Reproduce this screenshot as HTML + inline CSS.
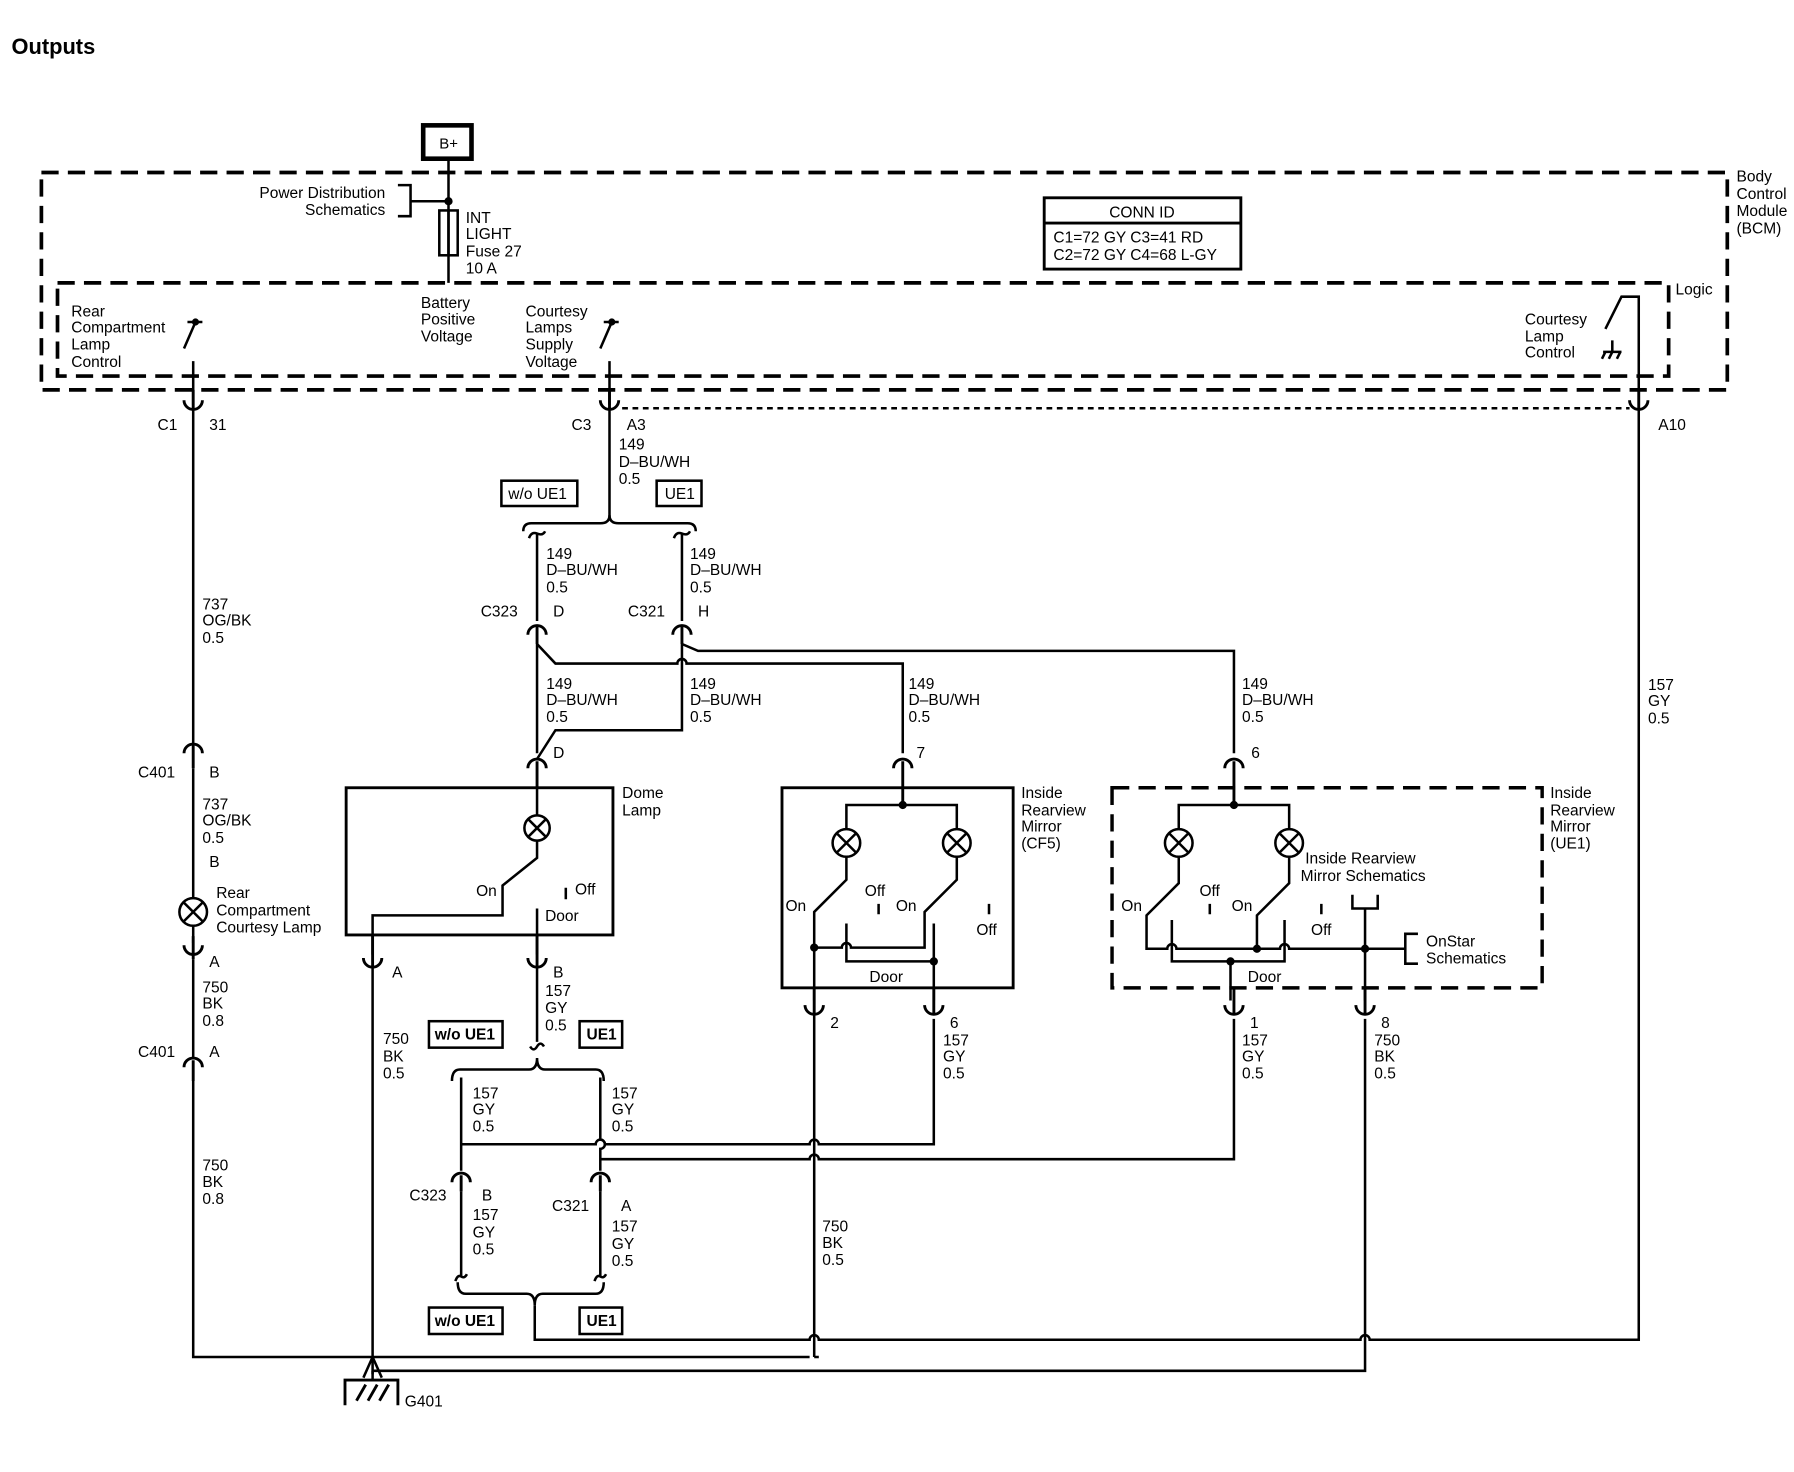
<!DOCTYPE html>
<html><head><meta charset="utf-8"><style>
html,body{margin:0;padding:0;background:#fff}
svg{display:block}
text{font-family:"Liberation Sans",sans-serif;font-size:13.5px;fill:#000}
</style></head><body>
<svg width="1794" height="1472" viewBox="0 0 1560 1280" xmlns="http://www.w3.org/2000/svg">
<g fill="none" stroke="#000" stroke-width="2.2">
<!-- BCM boxes -->
<rect x="36" y="150" width="1466" height="189" stroke-width="3.2" stroke-dasharray="15 8"/>
<rect x="50" y="246" width="1401" height="81" stroke-width="3.2" stroke-dasharray="15 8"/>
<!-- B+ -->
<rect x="368" y="109" width="42" height="29" stroke-width="4"/>
<line x1="390" y1="140" x2="390" y2="246"/>
<path d="M390 175 H357 M346 161 H357 V188 H346"/>
<circle cx="390" cy="175" r="2.5" fill="#000"/>
<rect x="382" y="183" width="16" height="39"/>
<line x1="390" y1="183" x2="390" y2="222"/>
<!-- CONN ID -->
<rect x="908" y="172" width="171" height="62" stroke-width="2.5"/>
<line x1="908" y1="194" x2="1079" y2="194" stroke-width="2.5"/>
<!-- BCM switches -->
<path d="M163 280 H176 M170 280 L160 303 M168 314 V352"/>
<circle cx="170" cy="280" r="2" fill="#000"/>
<path d="M525 280 H538 M532 280 L522 303 M530 314 V352"/>
<circle cx="532" cy="280" r="2" fill="#000"/>
<path d="M1425 352 V258 H1410 L1396 286 M1402 296 V306 M1394 306 H1410 M1396 306 L1393 312 M1402 306 L1399 312 M1409 306 L1406 312"/>
<!-- C1, C3, A10 connectors (U) -->
<path d="M160 348 A8 8 0 0 0 176 348 M168 339 V356" stroke-width="2.5"/>
<path d="M168 356 V648"/>
<path d="M522 348 A8 8 0 0 0 538 348 M530 339 V356" stroke-width="2.5"/>
<path d="M1417 348 A8 8 0 0 0 1433 348 M1425 339 V356" stroke-width="2.5"/>
<line x1="541" y1="355" x2="1417" y2="355" stroke-dasharray="5 4"/>
<!-- brace top -->
<path d="M530 356 V452"/>
<rect x="436" y="418" width="66" height="22"/>
<rect x="571" y="418" width="39" height="22"/>
<path d="M455 462 Q455 455 462 455 H522 Q530 455 530 448 Q530 455 538 455 H598 Q605 455 605 462"/>
<path d="M460 468 Q462 462 467 464 Q472 466 474 462 M586 468 Q588 462 593 464 Q598 466 600 462"/>
<path d="M467 464 V540 M593 464 V540"/>
<!-- C323 D / C321 H -->
<path d="M459 552 A8 8 0 0 1 475 552 M467 545 V560" stroke-width="2.5"/>
<path d="M585 552 A8 8 0 0 1 601 552 M593 545 V560" stroke-width="2.5"/>
<path d="M467 560 V655"/>
<path d="M467 560 L483 577 H589 a4 4 0 0 1 8 0 H785 V655"/>
<path d="M593 560 L607 566 H1073 V655"/>
<path d="M593 560 V635 H483 L467 660"/>
<!-- connectors D,7,6 (∩) -->
<path d="M459 668 A8 8 0 0 1 475 668 M467 662 V685" stroke-width="2.5"/>
<path d="M777 668 A8 8 0 0 1 793 668 M785 662 V700" stroke-width="2.5"/>
<path d="M1065 668 A8 8 0 0 1 1081 668 M1073 662 V700" stroke-width="2.5"/>
<!-- Dome lamp -->
<rect x="301" y="685" width="232" height="128" stroke-width="2.5"/>
<circle cx="467" cy="720" r="11"/>
<path d="M459 712 L475 728 M475 712 L459 728"/>
<path d="M467 685 V709 M467 731 V746 L437 770 V796 H324 V830"/>
<path d="M492 772 V782 M467 790 V830"/>
<path d="M316 833 A8 8 0 0 0 332 833 M324 813 V841" stroke-width="2.5"/>
<path d="M459 833 A8 8 0 0 0 475 833 M467 813 V841" stroke-width="2.5"/>
<path d="M324 841 V1195"/>
<path d="M467 841 V906"/>
<!-- middle brace group -->
<rect x="373" y="888" width="64" height="23"/>
<rect x="504" y="888" width="37" height="23"/>
<path d="M461 910 Q464 915 467 910 Q470 905 473 910"/>
<path d="M393 940 Q393 930 400 930 H460 Q467 930 467 920 Q467 930 474 930 H518 Q525 930 525 940"/>
<path d="M401 937 V1018 M522 937 V991 a4 4 0 0 1 0 8 V1018"/>
<path d="M401 995 H518 a4 4 0 0 1 8 0 H704 a4 4 0 0 1 8 0 H812 V886"/>
<path d="M522 1008 H704 a4 4 0 0 1 8 0 H1073 V886"/>
<path d="M393 1028 A8 8 0 0 1 409 1028 M401 1022 V1036" stroke-width="2.5"/>
<path d="M514 1028 A8 8 0 0 1 530 1028 M522 1022 V1036" stroke-width="2.5"/>
<path d="M401 1036 V1110 M522 1036 V1110"/>
<path d="M396 1114 Q398 1108 401 1110 Q404 1112 406 1108 M517 1114 Q519 1108 522 1110 Q525 1112 527 1108"/>
<path d="M398 1115 Q398 1125 405 1125 H458 Q465 1125 465 1135 Q465 1125 472 1125 H518 Q525 1125 525 1115"/>
<rect x="373" y="1137" width="64" height="23"/>
<rect x="504" y="1137" width="37" height="23"/>
<path d="M465 1135 V1165 H704 a4 4 0 0 1 8 0 H1183 a4 4 0 0 1 8 0 H1425 V356"/>
<!-- left harness -->
<path d="M160 655 A8 8 0 0 1 176 655 M168 648 V668" stroke-width="2.5"/>
<path d="M168 668 V781 M168 805 V820"/>
<circle cx="168" cy="793" r="12"/>
<path d="M160 785 L176 801 M176 785 L160 801"/>
<path d="M160 822 A8 8 0 0 0 176 822 M168 814 V834" stroke-width="2.5"/>
<path d="M168 834 V920"/>
<path d="M160 928 A8 8 0 0 1 176 928 M168 922 V940" stroke-width="2.5"/>
<path d="M168 940 V1180 H704 V1180 M712 1180 H708"/>
<path d="M324 1192 H1187 V886"/>
<!-- ground -->
<path d="M324 1180 L316 1198 M324 1180 L332 1198 M324 1192 V1200"/>
<path d="M300 1222 V1200 H346 V1222 M310 1218 L318 1204 M320 1218 L328 1204 M330 1218 L338 1204" stroke-width="2.5"/>
<!-- CF5 mirror -->
<rect x="680" y="685" width="201" height="174" stroke-width="2.5"/>
<path d="M736 721 V700 H832 V721"/>
<circle cx="785" cy="700" r="2.5" fill="#000"/>
<circle cx="736" cy="733" r="12"/><path d="M728 725 L744 741 M744 725 L728 741"/>
<circle cx="832" cy="733" r="12"/><path d="M824 725 L840 741 M840 725 L824 741"/>
<path d="M736 745 V765 L708 793 V870"/>
<path d="M832 745 V765 L804 793 V824 H740 a4 4 0 0 0 -8 0 H708"/>
<circle cx="708" cy="824" r="2.5" fill="#000"/>
<path d="M736 803 V836 H812 V803 M812 836 V870"/>
<circle cx="812" cy="836" r="2.5" fill="#000"/>
<path d="M764 786 V795 M860 786 V795"/>
<path d="M700 874 A8 8 0 0 0 716 874 M708 859 V882" stroke-width="2.5"/>
<path d="M804 874 A8 8 0 0 0 820 874 M812 859 V882" stroke-width="2.5"/>
<path d="M708 882 V1180"/>
<!-- UE1 mirror -->
<rect x="967" y="685" width="374" height="174" stroke-width="3" stroke-dasharray="15 8"/>
<path d="M1025 721 V700 H1121 V721"/>
<circle cx="1073" cy="700" r="2.5" fill="#000"/>
<circle cx="1025" cy="733" r="12"/><path d="M1017 725 L1033 741 M1033 725 L1017 741"/>
<circle cx="1121" cy="733" r="12"/><path d="M1113 725 L1129 741 M1129 725 L1113 741"/>
<path d="M1025 745 V768 L997 796 V825 H1015 a4 4 0 0 1 8 0 H1113 a4 4 0 0 1 8 0 H1222"/>
<path d="M1121 745 V768 L1093 796 V825"/>
<circle cx="1093" cy="825" r="2.5" fill="#000"/>
<circle cx="1187" cy="825" r="2.5" fill="#000"/>
<path d="M1019 800 V836 H1117 V800 M1070 836 V870"/>
<circle cx="1070" cy="836" r="2.5" fill="#000"/>
<path d="M1052 786 V795 M1149 786 V795"/>
<path d="M1176 778 V790 H1198 V778 M1187 790 V870"/>
<path d="M1233 812 H1222 V838 H1233"/>
<path d="M1065 874 A8 8 0 0 0 1081 874 M1073 859 V882" stroke-width="2.5"/>
<path d="M1179 874 A8 8 0 0 0 1195 874 M1187 859 V882" stroke-width="2.5"/>
</g>
<g>
<text x="10" y="47" style="font-size:19px;font-weight:bold">Outputs</text>
<text x="382" y="129" style="font-size:13px">B+</text>
<text x="335" y="172" text-anchor="end">Power Distribution</text>
<text x="335" y="187" text-anchor="end">Schematics</text>
<text x="405" y="194">INT</text><text x="405" y="208">LIGHT</text><text x="405" y="223">Fuse 27</text><text x="405" y="238">10 A</text>
<text x="1510" y="158">Body</text><text x="1510" y="173">Control</text><text x="1510" y="188">Module</text><text x="1510" y="203">(BCM)</text>
<text x="1457" y="256">Logic</text>
<text x="993" y="189" text-anchor="middle">CONN ID</text>
<text x="916" y="211">C1=72 GY  C3=41 RD</text>
<text x="916" y="226">C2=72 GY  C4=68 L-GY</text>
<text x="62" y="275">Rear</text><text x="62" y="289">Compartment</text><text x="62" y="304">Lamp</text><text x="62" y="319">Control</text>
<text x="366" y="268">Battery</text><text x="366" y="282">Positive</text><text x="366" y="297">Voltage</text>
<text x="457" y="275">Courtesy</text><text x="457" y="289">Lamps</text><text x="457" y="304">Supply</text><text x="457" y="319">Voltage</text>
<text x="1326" y="282">Courtesy</text><text x="1326" y="297">Lamp</text><text x="1326" y="311">Control</text>
<text x="137" y="374">C1</text><text x="182" y="374">31</text>
<text x="497" y="374">C3</text><text x="545" y="374">A3</text>
<text x="538" y="391">149</text><text x="538" y="406">D–BU/WH</text><text x="538" y="421">0.5</text>
<text x="1442" y="374">A10</text>
<text x="442" y="434">w/o UE1</text><text x="578" y="434">UE1</text>
<text x="475" y="486">149</text><text x="475" y="500">D–BU/WH</text><text x="475" y="515">0.5</text>
<text x="600" y="486">149</text><text x="600" y="500">D–BU/WH</text><text x="600" y="515">0.5</text>
<text x="418" y="536">C323</text><text x="481" y="536">D</text>
<text x="546" y="536">C321</text><text x="607" y="536">H</text>
<text x="475" y="599">149</text><text x="475" y="613">D–BU/WH</text><text x="475" y="628">0.5</text>
<text x="600" y="599">149</text><text x="600" y="613">D–BU/WH</text><text x="600" y="628">0.5</text>
<text x="790" y="599">149</text><text x="790" y="613">D–BU/WH</text><text x="790" y="628">0.5</text>
<text x="1080" y="599">149</text><text x="1080" y="613">D–BU/WH</text><text x="1080" y="628">0.5</text>
<text x="481" y="659">D</text><text x="797" y="659">7</text><text x="1088" y="659">6</text>
<text x="176" y="530">737</text><text x="176" y="544">OG/BK</text><text x="176" y="559">0.5</text>
<text x="1433" y="600">157</text><text x="1433" y="614">GY</text><text x="1433" y="629">0.5</text>
<text x="120" y="676">C401</text><text x="182" y="676">B</text>
<text x="176" y="704">737</text><text x="176" y="718">OG/BK</text><text x="176" y="733">0.5</text>
<text x="182" y="754">B</text>
<text x="188" y="781">Rear</text><text x="188" y="796">Compartment</text><text x="188" y="811">Courtesy Lamp</text>
<text x="182" y="841">A</text>
<text x="176" y="863">750</text><text x="176" y="877">BK</text><text x="176" y="892">0.8</text>
<text x="120" y="919">C401</text><text x="182" y="919">A</text>
<text x="176" y="1018">750</text><text x="176" y="1032">BK</text><text x="176" y="1047">0.8</text>
<text x="541" y="694">Dome</text><text x="541" y="709">Lamp</text>
<text x="414" y="779">On</text><text x="500" y="778">Off</text><text x="474" y="801">Door</text>
<text x="341" y="850">A</text><text x="481" y="850">B</text>
<text x="474" y="866">157</text><text x="474" y="881">GY</text><text x="474" y="896">0.5</text>
<text x="333" y="908">750</text><text x="333" y="923">BK</text><text x="333" y="938">0.5</text>
<text x="378" y="904" style="font-weight:bold">w/o UE1</text><text x="510" y="904" style="font-weight:bold">UE1</text>
<text x="411" y="955">157</text><text x="411" y="969">GY</text><text x="411" y="984">0.5</text>
<text x="532" y="955">157</text><text x="532" y="969">GY</text><text x="532" y="984">0.5</text>
<text x="356" y="1044">C323</text><text x="419" y="1044">B</text>
<text x="480" y="1053">C321</text><text x="540" y="1053">A</text>
<text x="411" y="1061">157</text><text x="411" y="1076">GY</text><text x="411" y="1091">0.5</text>
<text x="532" y="1071">157</text><text x="532" y="1086">GY</text><text x="532" y="1101">0.5</text>
<text x="378" y="1153" style="font-weight:bold">w/o UE1</text><text x="510" y="1153" style="font-weight:bold">UE1</text>
<text x="715" y="1071">750</text><text x="715" y="1085">BK</text><text x="715" y="1100">0.5</text>
<text x="352" y="1223">G401</text>
<text x="888" y="694">Inside</text><text x="888" y="709">Rearview</text><text x="888" y="723">Mirror</text><text x="888" y="738">(CF5)</text>
<text x="683" y="792">On</text><text x="752" y="779">Off</text><text x="779" y="792">On</text><text x="849" y="813">Off</text>
<text x="756" y="854">Door</text>
<text x="722" y="894">2</text><text x="826" y="894">6</text>
<text x="820" y="909">157</text><text x="820" y="923">GY</text><text x="820" y="938">0.5</text>
<text x="1348" y="694">Inside</text><text x="1348" y="709">Rearview</text><text x="1348" y="723">Mirror</text><text x="1348" y="738">(UE1)</text>
<text x="1135" y="751">Inside Rearview</text><text x="1131" y="766">Mirror Schematics</text>
<text x="975" y="792">On</text><text x="1043" y="779">Off</text><text x="1071" y="792">On</text><text x="1140" y="813">Off</text>
<text x="1085" y="854">Door</text>
<text x="1240" y="823">OnStar</text><text x="1240" y="838">Schematics</text>
<text x="1087" y="894">1</text><text x="1201" y="894">8</text>
<text x="1080" y="909">157</text><text x="1080" y="923">GY</text><text x="1080" y="938">0.5</text>
<text x="1195" y="909">750</text><text x="1195" y="923">BK</text><text x="1195" y="938">0.5</text>
</g>
</svg>
</body></html>
